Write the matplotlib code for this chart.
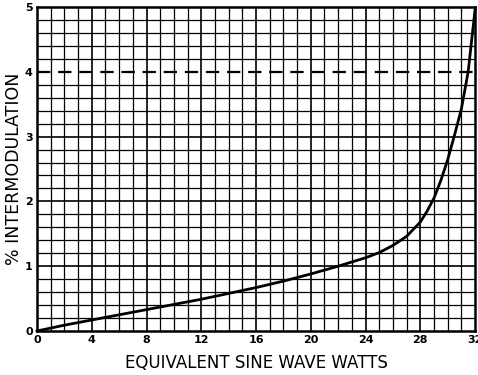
import matplotlib
matplotlib.use("Agg")
import matplotlib.pyplot as plt
import numpy as np

# curve
watts = [0, 2, 4, 6, 8, 10, 12, 14, 16, 18, 20, 22, 24, 25, 26, 27, 28,
         28.5, 29, 29.5, 30, 30.5, 31, 31.5, 32]
im_pct = [0, 0.09, 0.17, 0.25, 0.33, 0.41, 0.49, 0.58, 0.67, 0.77, 0.88, 1.0,
          1.13, 1.21, 1.32, 1.46, 1.68, 1.85, 2.05, 2.32, 2.64, 3.02, 3.42,
          4.0, 4.95]
limit_pct = 4
x_ticks = [0, 4, 8, 12, 16, 20, 24, 28, 32]
y_ticks = [0, 1, 2, 3, 4, 5]

fig = plt.figure(figsize=(4.78, 3.75), dpi=100)
ax = fig.add_axes([37 / 478, 44 / 375, 438 / 478, 324 / 375])

ax.set_xlim(0, 32)
ax.set_ylim(0, 5)

# graph-paper grid (the line at the limit is drawn dashed instead)
for x in np.arange(1, 32, 1):
    lw = 1.2 if x % 4 == 0 else 0.9
    ax.axvline(x, color="black", lw=lw, zorder=1)
for y in np.arange(0.2, 5, 0.2):
    if abs(y - limit_pct) < 1e-6:
        continue
    lw = 1.2 if abs(y - round(y)) < 1e-6 else 0.9
    ax.axhline(y, color="black", lw=lw, zorder=1)

ax.axhline(limit_pct, color="black", lw=1.6, linestyle=(0, (6, 3.5)), zorder=2)
ax.plot(watts, im_pct, color="black", lw=2.0, zorder=3, clip_on=False)

for s in ax.spines.values():
    s.set_linewidth(1.8)

ax.set_xticks(x_ticks)
ax.set_yticks(y_ticks)
ax.tick_params(length=0, labelsize=8, pad=3)
for lbl in ax.get_xticklabels() + ax.get_yticklabels():
    lbl.set_fontweight("bold")

ax.set_xlabel("EQUIVALENT SINE WAVE WATTS", fontsize=12, labelpad=6)
ax.set_ylabel("% INTERMODULATION", fontsize=12.5, va="center")
ax.yaxis.set_label_coords(-0.052, 0.5)

fig.savefig("out.png", dpi=100)
